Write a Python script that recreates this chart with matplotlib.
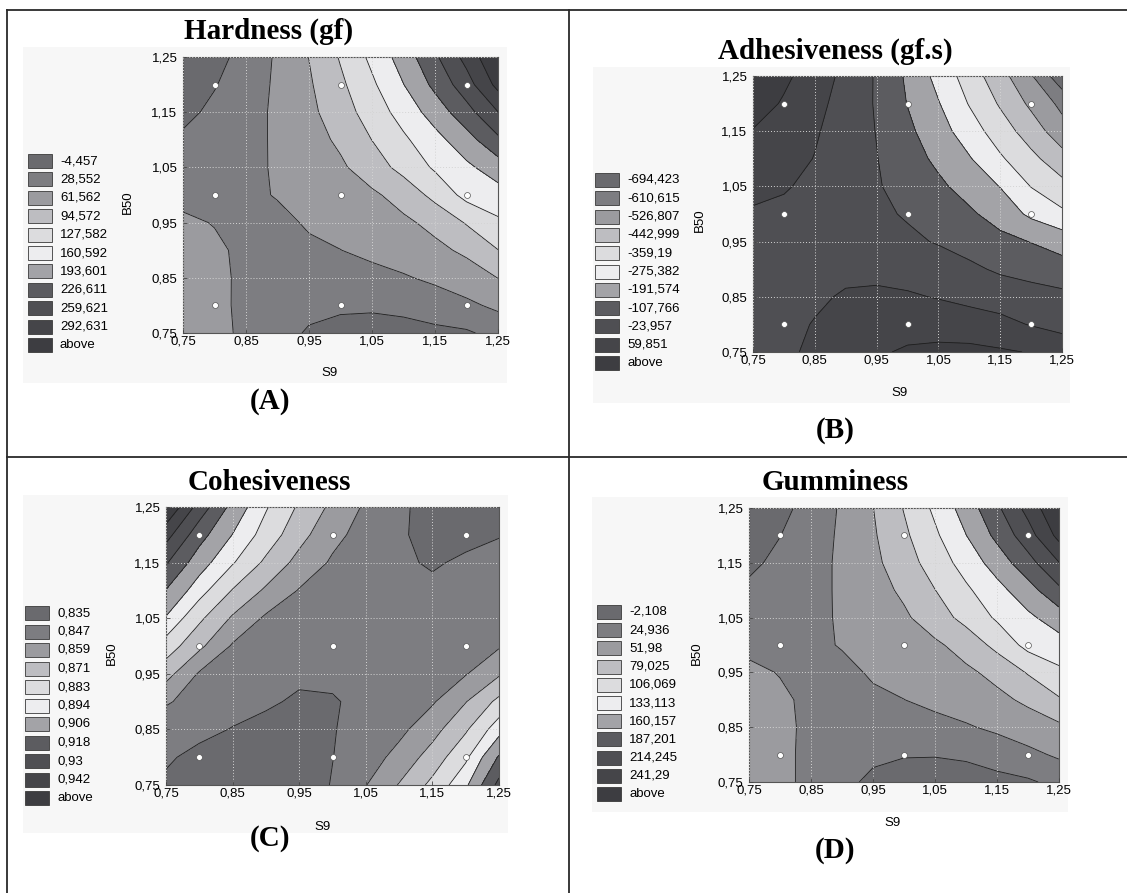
import numpy as np
import matplotlib
matplotlib.use("Agg")
import matplotlib.pyplot as plt
from matplotlib.patches import Rectangle
from matplotlib.ticker import FuncFormatter

plt.rcParams['font.family'] = ['Liberation Sans', 'DejaVu Sans']

# grid of the response surfaces (S9 across, B50 up)
s9 = [0.75, 0.80, 0.85, 0.90, 0.95, 1.00, 1.05, 1.10, 1.15, 1.20, 1.25]
b50 = [0.75, 0.80, 0.85, 0.90, 0.95, 1.00, 1.05, 1.10, 1.15, 1.20, 1.25]

# design points shown as white dots
design_s9 = [0.8, 1.0, 1.2, 0.8, 1.0, 1.2, 0.8, 1.0, 1.2]
design_b50 = [0.8, 0.8, 0.8, 1.0, 1.0, 1.0, 1.2, 1.2, 1.2]

hardness_levels = [-4.457, 28.552, 61.562, 94.572, 127.582, 160.592, 193.601, 226.611, 259.621, 292.631]
hardness = [
    [45.1, 35.8, 23.6, 7.1, -7.8, -14.4, -16.0, -14.4, -11.1, -8.4, 5.4],
    [43.4, 35.2, 22.6, 12.0, 3.8, 0.5, -0.2, 2.8, 10.4, 21.9, 35.2],
    [41.8, 34.2, 23.6, 18.7, 13.7, 13.7, 18.0, 25.3, 35.2, 46.7, 62.0],
    [38.5, 32.5, 23.6, 20.3, 23.9, 28.2, 36.8, 45.7, 54.3, 67.2, 94.0],
    [32.5, 27.6, 20.3, 21.9, 31.5, 39.4, 47.7, 55.9, 69.8, 97.2, 122.0],
    [22.3, 21.3, 22.6, 30.2, 39.1, 47.7, 56.3, 73.4, 104.5, 137.5, 147.4],
    [11.4, 14.7, 20.3, 32.2, 44.4, 56.6, 78.1, 105.5, 131.9, 154.0, 177.1],
    [0.8, 7.8, 19.3, 32.8, 49.0, 67.2, 95.0, 122.0, 149.7, 180.4, 220.0],
    [-12.7, 2.5, 17.3, 33.8, 53.6, 79.7, 109.4, 140.8, 175.1, 214.4, 259.0],
    [-25.9, -6.4, 13.0, 33.5, 57.6, 88.3, 122.0, 160.0, 201.9, 245.4, 302.5],
    [-37.5, -16.0, 8.1, 32.8, 62.2, 97.5, 135.2, 175.8, 221.0, 270.5, 325.6],
]

adhesiveness_levels = [-694.423, -610.615, -526.807, -442.999, -359.19, -275.382, -191.574, -107.766, -23.957, 59.851]
adhesiveness = [
    [-61.7, -40.7, -7.2, 17.9, 47.3, 72.4, 80.8, 80.8, 69.9, 55.7, 1.2],
    [-57.5, -44.9, -19.8, 1.2, 13.8, 22.1, 22.1, 13.8, -3.0, -28.2, -36.5],
    [-53.3, -49.1, -36.5, -15.6, -7.2, -15.6, -28.2, -44.9, -57.5, -70.1, -86.8],
    [-44.9, -44.9, -44.9, -42.4, -47.4, -53.3, -61.7, -91.0, -120.3, -141.3, -158.1],
    [-40.7, -49.1, -57.5, -65.9, -74.2, -91.0, -114.5, -141.3, -168.1, -194.1, -225.1],
    [-32.3, -40.7, -57.5, -74.2, -91.0, -116.1, -147.2, -178.2, -225.9, -292.1, -342.4],
    [-4.7, -17.3, -41.6, -70.9, -101.1, -137.1, -175.7, -223.4, -277.9, -361.7, -417.9],
    [26.3, 5.4, -26.5, -65.9, -105.3, -155.5, -209.2, -268.7, -347.5, -421.2, -493.3],
    [55.7, 21.3, -15.6, -61.7, -110.3, -174.0, -241.0, -318.1, -402.8, -482.4, -577.1],
    [101.8, 50.6, -0.5, -55.0, -115.3, -194.1, -270.4, -364.2, -452.2, -543.6, -631.6],
    [126.9, 77.4, 17.9, -44.9, -116.1, -205.0, -302.2, -398.6, -495.8, -602.2, -753.1],
]

cohesiveness_levels = [0.835, 0.847, 0.859, 0.871, 0.883, 0.894, 0.906, 0.918, 0.93, 0.942]
cohesiveness = [
    [0.8326, 0.8285, 0.8267, 0.8273, 0.8291, 0.8356, 0.8466, 0.8597, 0.8741, 0.8919, 0.9216],
    [0.8368, 0.8314, 0.8291, 0.8291, 0.8303, 0.8348, 0.8409, 0.8510, 0.8641, 0.8807, 0.9073],
    [0.8415, 0.8386, 0.8344, 0.8314, 0.8308, 0.8344, 0.8392, 0.8439, 0.8546, 0.8694, 0.8896],
    [0.8480, 0.8433, 0.8403, 0.8368, 0.8332, 0.8338, 0.8386, 0.8421, 0.8457, 0.8585, 0.8741],
    [0.8635, 0.8457, 0.8421, 0.8397, 0.8374, 0.8380, 0.8397, 0.8415, 0.8435, 0.8463, 0.8575],
    [0.8777, 0.8617, 0.8457, 0.8427, 0.8409, 0.8397, 0.8395, 0.8400, 0.8415, 0.8439, 0.8459],
    [0.8931, 0.8734, 0.8574, 0.8451, 0.8427, 0.8409, 0.8397, 0.8392, 0.8397, 0.8415, 0.8439],
    [0.9056, 0.8878, 0.8703, 0.8571, 0.8463, 0.8433, 0.8403, 0.8386, 0.8374, 0.8392, 0.8415],
    [0.9192, 0.8994, 0.8840, 0.8686, 0.8550, 0.8454, 0.8415, 0.8368, 0.8338, 0.8368, 0.8392],
    [0.9346, 0.9107, 0.8937, 0.8781, 0.8632, 0.8503, 0.8425, 0.8362, 0.8320, 0.8320, 0.8344],
    [0.9536, 0.9251, 0.9022, 0.8841, 0.8693, 0.8563, 0.8452, 0.8368, 0.8314, 0.8291, 0.8279],
]

gumminess_levels = [-2.108, 24.936, 51.98, 79.025, 106.069, 133.113, 160.157, 187.201, 214.245, 241.29]
gumminess = [
    [38.5, 30.3, 19.5, 4.7, -7.5, -11.6, -12.9, -11.6, -8.9, -5.4, 4.7],
    [37.1, 30.3, 19.5, 10.1, 2.8, -0.8, -1.0, 1.1, 8.2, 18.2, 29.0],
    [35.7, 29.5, 20.9, 16.8, 12.8, 12.8, 16.3, 22.2, 30.3, 39.8, 46.6],
    [33.0, 28.2, 20.9, 18.2, 21.2, 24.7, 31.7, 39.0, 46.0, 56.6, 76.3],
    [29.0, 24.1, 18.2, 19.5, 27.4, 33.9, 40.6, 47.4, 58.7, 81.2, 100.7],
    [20.3, 19.0, 20.1, 26.3, 33.6, 40.6, 47.7, 61.7, 87.1, 114.2, 122.3],
    [11.4, 13.6, 18.2, 27.9, 37.9, 47.9, 65.5, 87.9, 109.6, 127.7, 146.6],
    [2.8, 7.9, 17.4, 28.5, 41.7, 56.6, 78.6, 101.5, 124.2, 149.3, 181.8],
    [-7.5, 4.1, 15.7, 29.3, 45.5, 66.9, 91.2, 116.9, 145.0, 177.2, 213.5],
    [-18.3, -2.6, 12.8, 29.0, 48.7, 73.9, 101.5, 132.6, 166.9, 202.6, 249.4],
    [-27.8, -10.2, 8.7, 28.2, 51.5, 80.4, 111.5, 145.3, 182.3, 223.2, 268.3],
]

ticks = [0.75, 0.85, 0.95, 1.05, 1.15, 1.25]

# Statistica style grey ramp: below, 9 bands, above
band_colors = ['#6a6a6e', '#7d7d81', '#9b9b9f', '#bdbdc1', '#dcdcde', '#ededef',
               '#a3a3a7', '#5c5c60', '#4f4f53', '#454549', '#3d3d41']

W, H = 1127, 893
fig = plt.figure(figsize=(W / 100, H / 100), dpi=100)
bg = fig.add_axes([0, 0, 1, 1], zorder=0)
bg.set_xlim(0, W)
bg.set_ylim(H, 0)
bg.axis('off')

# table frame
for xs, ys in [([7, 7], [10, H]), ([7, W], [10, 10]), ([569, 569], [10, H]), ([7, W], [457, 457])]:
    bg.plot(xs, ys, color='#2a2a2a', lw=1.3)

panels = [
    dict(title='Hardness (gf)', tag='(A)', z=hardness, levels=hardness_levels,
         rect=(183, 57, 498, 333), shade=(23, 47, 507, 383), title_xy=(269, 39), tag_xy=(270, 409),
         leg_x=28, leg_y=(161, 345), xl_xy=(330, 373), yl_xy=(128, 202)),
    dict(title='Adhesiveness (gf.s)', tag='(B)', z=adhesiveness, levels=adhesiveness_levels,
         rect=(753, 76, 1062, 352), shade=(593, 67, 1070, 403), title_xy=(835, 59), tag_xy=(835, 438),
         leg_x=595, leg_y=(180, 363), xl_xy=(900, 393), yl_xy=(700, 220)),
    dict(title='Cohesiveness', tag='(C)', z=cohesiveness, levels=cohesiveness_levels,
         rect=(166, 507, 499, 785), shade=(23, 495, 508, 833), title_xy=(269, 490), tag_xy=(270, 846),
         leg_x=25, leg_y=(613, 798), xl_xy=(323, 827), yl_xy=(112, 653)),
    dict(title='Gumminess', tag='(D)', z=gumminess, levels=gumminess_levels,
         rect=(749, 508, 1059, 782), shade=(592, 497, 1068, 812), title_xy=(835, 490), tag_xy=(835, 858),
         leg_x=597, leg_y=(612, 794), xl_xy=(893, 823), yl_xy=(697, 653)),
]

comma = FuncFormatter(lambda v, p: f"{v:.2f}".replace('.', ','))
X, Y = np.meshgrid(s9, b50)

for p in panels:
    x0, y0, x1, y1 = p['shade']
    bg.add_patch(Rectangle((x0, y0), x1 - x0, y1 - y0, facecolor='#f7f7f7', edgecolor='none'))

    x0, y0, x1, y1 = p['rect']
    ax = fig.add_axes([x0 / W, 1 - y1 / H, (x1 - x0) / W, (y1 - y0) / H], zorder=2)
    Z = np.array(p['z'])
    ax.contourf(X, Y, Z, levels=p['levels'], colors=band_colors, extend='both')
    ax.contour(X, Y, Z, levels=p['levels'], colors='#1e1e1e', linewidths=0.6,
               linestyles='solid', negative_linestyles='solid')
    ax.scatter(design_s9, design_b50, s=18, facecolor='white', edgecolor='#555555',
               linewidth=0.5, zorder=5)
    ax.set_xlim(0.75, 1.25)
    ax.set_ylim(0.75, 1.25)
    ax.set_xticks(ticks)
    ax.set_yticks(ticks)
    ax.xaxis.set_major_formatter(comma)
    ax.yaxis.set_major_formatter(comma)
    ax.tick_params(direction='in', length=3, width=0.6, color='#444444', labelsize=9.5)
    ax.tick_params(axis='x', pad=2)
    ax.tick_params(axis='y', pad=4)
    ax.set_axisbelow(False)
    ax.grid(True, color='#d4d4d4', linestyle=(0, (1, 2)), linewidth=0.7)
    for sp in ax.spines.values():
        sp.set_color('#555555')
        sp.set_linewidth(0.8)

    bg.text(*p['title_xy'], p['title'], family=['Liberation Serif', 'DejaVu Serif'],
            fontsize=21, fontweight='bold', ha='center', va='baseline')
    bg.text(*p['tag_xy'], p['tag'], family=['Liberation Serif', 'DejaVu Serif'],
            fontsize=21, fontweight='bold', ha='center', va='baseline')
    bg.text(*p['xl_xy'], 'S9', fontsize=9.5, ha='center', va='center')
    bg.text(*p['yl_xy'], 'B50', fontsize=9.5, ha='center', va='center', rotation=90)

    labels = [f"{v:g}".replace('.', ',') for v in p['levels']] + ['above']
    top, bottom = p['leg_y']
    step = (bottom - top) / (len(labels) - 1)
    for i, (c, lab) in enumerate(zip(band_colors, labels)):
        cy = top + i * step
        bg.add_patch(Rectangle((p['leg_x'], cy - 7), 24, 14, facecolor=c,
                               edgecolor='#3a3a3a', linewidth=0.6))
        bg.text(p['leg_x'] + 32, cy, lab, fontsize=9.5, ha='left', va='center')

fig.savefig('out.png', dpi=100)
